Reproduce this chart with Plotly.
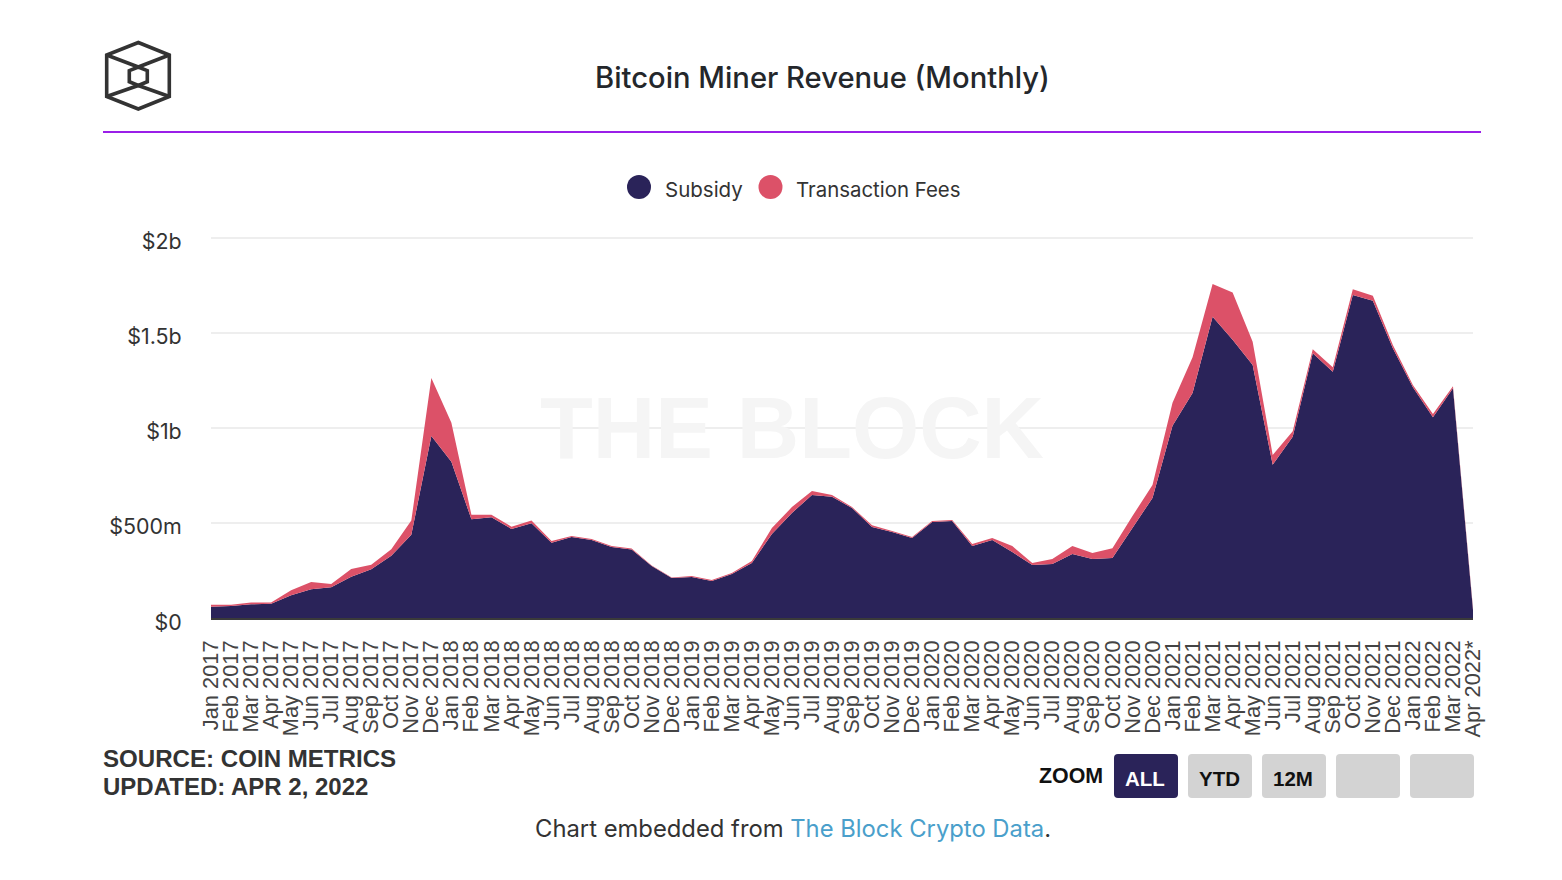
import plotly.graph_objects as go

years_months = [("Jan Feb Mar Apr May Jun Jul Aug Sep Oct Nov Dec".split()[m], y) for y in range(2017, 2023) for m in range(12)]
months = [f"{m} {y}" for m, y in years_months][:63] + ["Apr 2022*"]

subsidy = [59, 63, 72, 75, 120, 151, 162, 217, 256, 327, 437, 957,
           821, 519, 529, 468, 498, 396, 426, 410, 373, 360, 273, 210,
           216, 195, 231, 289, 442, 552, 647, 637, 578, 478, 452, 421,
           505, 510, 379, 410, 347, 279, 284, 336, 310, 315, 473, 631,
           1011, 1182, 1584, 1462, 1330, 806, 953, 1392, 1295, 1698, 1668, 1418,
           1213, 1055, 1208, 42]
fees = [10, 7, 10, 7, 26, 38, 17, 40, 24, 34, 75, 305,
        205, 24, 14, 12, 14, 9, 5, 5, 5, 5, 3, 3,
        5, 5, 5, 10, 31, 31, 21, 10, 5, 10, 5, 5,
        5, 5, 10, 10, 31, 10, 26, 42, 31, 52, 63, 68,
        120, 189, 171, 249, 122, 51, 28, 21, 23, 30, 26, 17,
        12, 17, 10, 9]
y_ticks = [0, 500, 1000, 1500, 2000]
y_labels = ["$0", "$500m", "$1b", "$1.5b", "$2b"]

NAVY = "#2a2359"
RED = "#dc5168"
INK = "#333333"
TITLE_INK = "#24272b"
BODY = "Inter"
HELV = "Liberation Sans"

L, R, T, B = 211, 1473, 236, 618
def px(x): return (x - L) / (R - L)
def py(y): return (B - y) / (B - T)

fig = go.Figure()
fig.add_trace(go.Scatter(x=months, y=subsidy, name="Subsidy", stackgroup="one", mode="lines",
                         line=dict(width=0, color=NAVY), fillcolor=NAVY, showlegend=False))
fig.add_trace(go.Scatter(x=months, y=fees, name="Transaction Fees", stackgroup="one", mode="lines",
                         line=dict(width=0, color=RED), fillcolor=RED, showlegend=False))

shapes = []
def seg(pts, color=INK, width=3.6, close=False):
    d = "M " + " L ".join(f"{px(x):.5f} {py(y):.5f}" for x, y in pts) + (" Z" if close else "")
    shapes.append(dict(type="path", xref="paper", yref="paper", path=d,
                       line=dict(color=color, width=width), layer="above"))

# logo
outer = [(138.3, 42.5), (169.3, 55), (169.3, 96.5), (138.3, 109), (106.7, 96.5), (106.7, 55)]
inner = [(138.3, 67), (147.3, 70.7), (147.3, 81.7), (138.3, 85.5), (129.3, 81.7), (129.3, 70.7)]
seg(outer, close=True)
seg(inner, close=True)
seg([(106.7, 55), (138.3, 67), (169.3, 55)])
seg([(106.7, 96.5), (138.3, 85.5), (169.3, 96.5)])

# purple rule
shapes.append(dict(type="line", xref="paper", yref="paper", x0=px(103), x1=px(1481), y0=py(132), y1=py(132),
                   line=dict(color="#9a1fe8", width=2)))

# legend dots
for cx, col in ((639, NAVY), (770.5, RED)):
    shapes.append(dict(type="circle", xref="paper", yref="paper", fillcolor=col, line=dict(width=0),
                       x0=px(cx - 12), x1=px(cx + 12), y0=py(175), y1=py(199)))

# zoom buttons
def rrect(x0, x1, y0, y1, col, r=4):
    d = (f"M {px(x0+r):.5f} {py(y0):.5f} L {px(x1-r):.5f} {py(y0):.5f} Q {px(x1):.5f} {py(y0):.5f} {px(x1):.5f} {py(y0+r):.5f} "
         f"L {px(x1):.5f} {py(y1-r):.5f} Q {px(x1):.5f} {py(y1):.5f} {px(x1-r):.5f} {py(y1):.5f} "
         f"L {px(x0+r):.5f} {py(y1):.5f} Q {px(x0):.5f} {py(y1):.5f} {px(x0):.5f} {py(y1-r):.5f} "
         f"L {px(x0):.5f} {py(y0+r):.5f} Q {px(x0):.5f} {py(y0):.5f} {px(x0+r):.5f} {py(y0):.5f} Z")
    shapes.append(dict(type="path", xref="paper", yref="paper", path=d, fillcolor=col, line=dict(width=0)))

buttons = [(1114, NAVY, "ALL", "#ffffff"), (1188, "#d3d3d3", "YTD", "#111111"), (1262, "#d3d3d3", "12M", "#111111"),
           (1336, "#d3d3d3", "", ""), (1410, "#d3d3d3", "", "")]
for x0, col, _, _ in buttons:
    rrect(x0, x0 + 64, 754, 798, col)

ann = []
def text(x, y, s, size, color, family=BODY, anchor="center", weight=400):
    ann.append(dict(xref="paper", yref="paper", x=px(x), y=py(y), text=s, showarrow=False, xanchor=anchor,
                    yanchor="middle", font=dict(size=size, color=color, family=family, weight=weight), align="left"))

text(792, 428, "<b>THE BLOCK</b>", 86.4, "#f5f5f5", HELV)
text(822, 77.5, "Bitcoin Miner Revenue (Monthly)", 29.2, TITLE_INK, BODY, weight=500)
text(663, 189, "Subsidy", 20.5, INK, BODY, "left")
text(793.5, 189, "Transaction Fees", 20.4, INK, BODY, "left")
text(101, 758, "<b>SOURCE: COIN METRICS</b>", 24.1, INK, HELV, "left")
text(101, 786, "<b>UPDATED: APR 2, 2022</b>", 24, INK, HELV, "left")
text(1037, 776, "<b>ZOOM</b>", 21.4, "#111111", HELV, "left")
for x0, _, s, c in buttons:
    if s:
        text(x0 + 31, 778, f"<b>{s}</b>", 20.5, c, HELV)
text(792.5, 828, 'Chart embedded from <span style="color:#4a9fcb">The Block Crypto Data</span>.', 23.8, INK, BODY)

fig.update_layout(
    width=1562, height=880, autosize=False,
    margin=dict(l=L, r=1562 - R, t=T, b=880 - B, pad=0),
    paper_bgcolor="white", plot_bgcolor="white",
    showlegend=False, shapes=shapes, annotations=ann,
    xaxis=dict(type="category", categoryorder="array", categoryarray=months, range=[0, len(months) - 1],
               tickmode="array", tickvals=months, ticktext=months, tickangle=-90,
               tickfont=dict(family=HELV, size=21.8, color="#444444"),
               showgrid=False, zeroline=False, showline=True, linecolor="#3a3a3a", linewidth=1.5,
               ticks="outside", ticklen=12, tickcolor="rgba(0,0,0,0)", tickwidth=1, automargin=False),
    yaxis=dict(range=[0, 2000 * 191 / 190.25], tickmode="array", tickvals=y_ticks, ticktext=y_labels,
               tickfont=dict(family=BODY, size=21.4, color=INK), ticklabelshift=4,
               showgrid=True, gridcolor="#eeeeee", gridwidth=2, zeroline=False, showline=False,
               ticks="outside", ticklen=24, tickcolor="rgba(0,0,0,0)", automargin=False),
    hovermode="x unified",
)
fig.write_html("out.html", post_script="document.body.style.margin='0';", config=dict(displayModeBar=False))
